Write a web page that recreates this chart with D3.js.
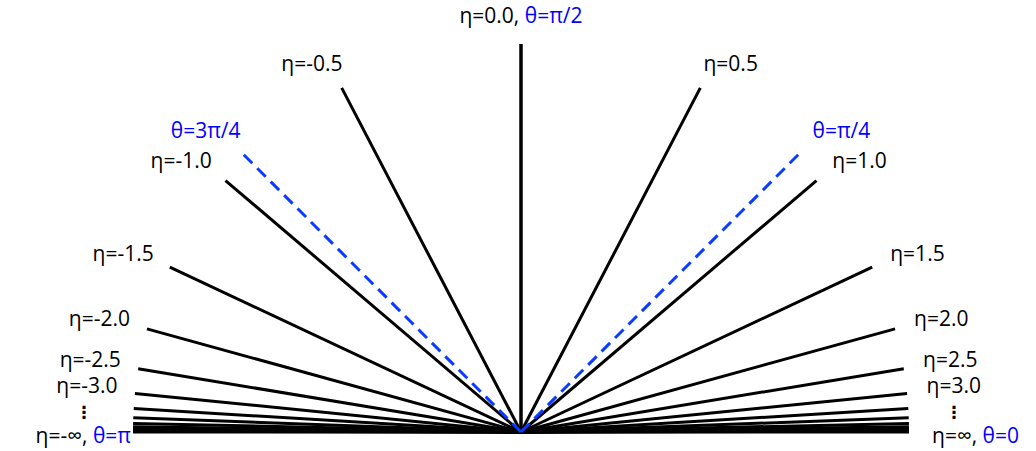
<!DOCTYPE html>
<html>
<head>
<meta charset="utf-8">
<script src="https://cdn.jsdelivr.net/npm/d3@7"></script>
<style>
  body { margin: 0; background: #fff; }
  text { font-family: "Open Sans", "DejaVu Sans", sans-serif; font-size: 21px; fill: #000; }
  .blue { fill: #0000ff; }
</style>
</head>
<body>
<div id="chart"></div>
<script>
// pseudorapidity values drawn as black lines (right half, mirrored on the left)
var etaValues = [0, 0.5, 1.0, 1.5, 2.0, 2.5, 3.0, 3.5, 4.0, 4.5, 5.0, 5.5, 6.0, 6.5, 7.0, Infinity];
// etas that get a label
var labelledEtas = [0.5, 1.0, 1.5, 2.0, 2.5, 3.0];
// polar angles drawn dashed
var thetaDashed = [Math.PI / 4, 3 * Math.PI / 4];
var thetaDashedLabels = ["θ=π/4", "θ=3π/4"];

var svgWidth = 1036;
var svgHeight = 451;
var origin = { x: 521, y: 432 };

var svg = d3.select("#chart")
    .append("svg")
    .attr("width", svgWidth)
    .attr("height", svgHeight);

var g = svg.append("g")
    .attr("transform", `translate(${origin.x}, ${origin.y})`);

// radial length scale
var rScale = d3.scaleLinear().domain([0, 1]).range([0, 388]);

// theta from eta
function etaToTheta(eta) {
    return 2 * Math.atan(Math.exp(-eta));
}

// point at polar angle theta (from +x axis, counter-clockwise)
function pt(theta, r) {
    return d3.pointRadial(Math.PI / 2 - theta, r);
}

// all signed etas
var allEtas = [];
etaValues.forEach(function(e) {
    allEtas.push(e);
    if (e !== 0) allEtas.push(-e);
});

g.selectAll("line.eta")
    .data(allEtas)
    .enter()
    .append("line")
    .attr("class", "eta")
    .attr("x1", 0)
    .attr("y1", 0)
    .attr("x2", d => pt(etaToTheta(d), rScale(1))[0])
    .attr("y2", d => pt(etaToTheta(d), rScale(1))[1])
    .attr("stroke", "#000")
    .attr("stroke-width", d => d === 0 ? 3.5 : 3);

g.selectAll("line.theta")
    .data(thetaDashed)
    .enter()
    .append("line")
    .attr("class", "theta")
    .attr("x1", 0)
    .attr("y1", 0)
    .attr("x2", d => pt(d, rScale(1.015))[0])
    .attr("y2", d => pt(d, rScale(1.015))[1])
    .attr("stroke", "#0a3cff")
    .attr("stroke-width", 3)
    .attr("stroke-dasharray", "12,7");

// eta labels, right side start-anchored, left side end-anchored
labelledEtas.forEach(function(e) {
    var p = pt(etaToTheta(e), rScale(1.04));
    var gap = e < 1 ? -4 : 4;
    g.append("text")
        .attr("x", p[0] + gap)
        .attr("y", p[1] + (e < 1.5 ? -3 : 1))
        .attr("text-anchor", "start")
        .text("η=" + e.toFixed(1));
    g.append("text")
        .attr("x", -p[0] - gap + (e < 1 ? 4 : 2))
        .attr("y", p[1] + (e < 1.5 ? -3 : 1))
        .attr("text-anchor", "end")
        .text("η=-" + e.toFixed(1));
});

// top label
var topPt = pt(etaToTheta(0), rScale(1));
var topText = g.append("text")
    .attr("x", topPt[0])
    .attr("y", topPt[1] - 21)
    .attr("text-anchor", "middle");
topText.append("tspan").text("η=0.0, ");
topText.append("tspan").attr("class", "blue").text("θ=π/2");

// theta dashed labels
thetaDashed.forEach(function(t, i) {
    var p = pt(t, rScale(1.015));
    g.append("text")
        .attr("class", "blue")
        .attr("x", p[0] + (i === 0 ? 13 : -2))
        .attr("y", p[1] - 16)
        .attr("text-anchor", i === 0 ? "start" : "end")
        .text(thetaDashedLabels[i]);
});

// infinity labels
var inf = pt(0, rScale(1));
var rightInf = g.append("text")
    .attr("x", inf[0] + 23)
    .attr("y", inf[1] + 11);
rightInf.append("tspan").text("η=∞, ");
rightInf.append("tspan").attr("class", "blue").text("θ=0");

var leftInf = g.append("text")
    .attr("x", -inf[0] - 2)
    .attr("y", inf[1] + 11)
    .attr("text-anchor", "end");
leftInf.append("tspan").text("η=-∞, ");
leftInf.append("tspan").attr("class", "blue").text("θ=π");

// vertical ellipsis between eta=3 and infinity
[954 - origin.x, 84 - origin.x].forEach(function(x) {
    g.append("text")
        .attr("x", x)
        .attr("y", -14)
        .attr("text-anchor", "middle")
        .style("font-family", "DejaVu Sans")
        .style("font-size", "17px")
        .style("font-weight", "bold")
        .text("⋮");
});
</script>
</body>
</html>
